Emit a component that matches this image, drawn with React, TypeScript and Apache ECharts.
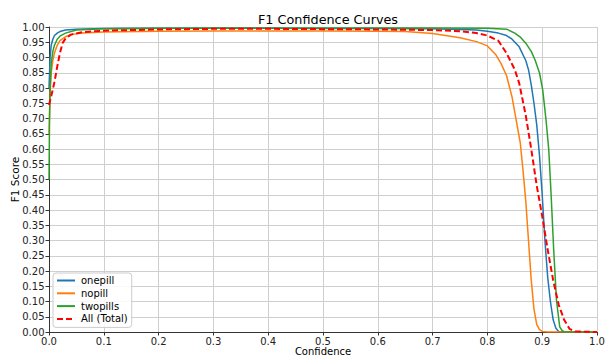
import React, { useEffect, useRef } from "react";
import * as echarts from "echarts";

const TITLE = "F1 Confidence Curves";
const X_NAME = "Confidence";
const Y_NAME = "F1 Score";

const onepillX = [0, 0.002, 0.004, 0.007, 0.01, 0.015, 0.02, 0.03, 0.05, 0.1, 0.2, 0.3, 0.4, 0.5, 0.6, 0.7, 0.75, 0.78, 0.8, 0.82, 0.835, 0.845, 0.858, 0.87, 0.875, 0.88, 0.885, 0.89, 0.895, 0.9, 0.905, 0.91, 0.915, 0.92, 0.925, 0.93, 0.94, 1.0];
const onepillY = [0.8, 0.9, 0.94, 0.96, 0.972, 0.98, 0.985, 0.99, 0.993, 0.995, 0.996, 0.996, 0.996, 0.995, 0.995, 0.994, 0.992, 0.99, 0.986, 0.98, 0.972, 0.96, 0.935, 0.89, 0.86, 0.81, 0.75, 0.68, 0.58, 0.45, 0.3, 0.18, 0.1, 0.04, 0.012, 0.002, 0, 0];

const nopillX = [0, 0.002, 0.004, 0.007, 0.01, 0.015, 0.02, 0.03, 0.04, 0.06, 0.1, 0.2, 0.3, 0.4, 0.5, 0.6, 0.65, 0.7, 0.75, 0.78, 0.8, 0.815, 0.825, 0.835, 0.845, 0.85, 0.855, 0.86, 0.865, 0.87, 0.875, 0.88, 0.885, 0.89, 0.895, 0.9, 0.91, 1.0];
const nopillY = [0.65, 0.78, 0.85, 0.89, 0.915, 0.94, 0.955, 0.968, 0.975, 0.98, 0.984, 0.986, 0.987, 0.987, 0.987, 0.986, 0.985, 0.979, 0.965, 0.952, 0.938, 0.91, 0.88, 0.84, 0.77, 0.72, 0.67, 0.62, 0.53, 0.43, 0.3, 0.17, 0.075, 0.025, 0.008, 0.002, 0, 0];

const twopillsX = [0, 0.001, 0.002, 0.004, 0.007, 0.01, 0.015, 0.02, 0.03, 0.05, 0.1, 0.2, 0.3, 0.4, 0.5, 0.6, 0.7, 0.8, 0.835, 0.85, 0.86, 0.87, 0.88, 0.887, 0.895, 0.901, 0.907, 0.912, 0.916, 0.921, 0.926, 0.932, 0.936, 0.94, 1.0];
const twopillsY = [0.5, 0.7, 0.8, 0.88, 0.92, 0.94, 0.96, 0.97, 0.98, 0.99, 0.994, 0.996, 0.997, 0.997, 0.997, 0.997, 0.997, 0.996, 0.993, 0.98, 0.967, 0.947, 0.92, 0.892, 0.85, 0.793, 0.695, 0.597, 0.46, 0.269, 0.105, 0.017, 0.005, 0.001, 0];

const totalX = [0, 0.005, 0.01, 0.015, 0.02, 0.025, 0.03, 0.04, 0.06, 0.1, 0.2, 0.3, 0.4, 0.5, 0.6, 0.7, 0.75, 0.78, 0.8, 0.82, 0.835, 0.85, 0.858, 0.87, 0.88, 0.89, 0.9, 0.91, 0.92, 0.93, 0.94, 0.95, 0.96, 1.0];
const totalY = [0.744, 0.78, 0.82, 0.87, 0.915, 0.948, 0.962, 0.975, 0.983, 0.988, 0.992, 0.994, 0.994, 0.993, 0.992, 0.99, 0.986, 0.98, 0.972, 0.955, 0.914, 0.86, 0.816, 0.71, 0.6, 0.48, 0.38, 0.27, 0.17, 0.09, 0.04, 0.01, 0.002, 0];

const SERIES_NAMES = ["onepill", "nopill", "twopills", "All (Total)"];

const zip = (xs: number[], ys: number[]) => xs.map((x, i) => [x, ys[i]]);

export default function App() {
  const ref = useRef<HTMLDivElement>(null);
  useEffect(() => {
    if (!ref.current) return;
    const chart = echarts.init(ref.current, null, { renderer: "svg" });
    const font = "DejaVu Sans";
    const mk = (name: string, data: number[][], color: string, width: number, type: any) => ({
      name,
      type: "line",
      data,
      showSymbol: false,
      symbol: "none",
      smooth: false,
      lineStyle: { color, width, type },
      itemStyle: { color },
    });
    chart.setOption({
      animation: false,
      backgroundColor: "#ffffff",
      title: {
        text: TITLE,
        left: 323,
        textAlign: "center",
        top: 8,
        textStyle: { fontFamily: font, fontSize: 12.8, fontWeight: "normal", color: "#000" },
      },
      grid: { left: 49, right: 8, top: 27, bottom: 26, containLabel: false, outerBoundsMode: "none" },
      legend: {
        orient: "vertical",
        left: 53,
        top: 273,
        padding: [2, 4, 3, 3],
        itemGap: 1.8,
        itemWidth: 18,
        itemHeight: 11,
        backgroundColor: "rgba(255,255,255,0.85)",
        borderColor: "#cccccc",
        borderWidth: 1,
        borderRadius: 3,
        itemStyle: { color: "transparent", opacity: 0, borderWidth: 0 },
        textStyle: { fontFamily: font, fontSize: 10, color: "#000", lineHeight: 11, padding: [0, 0, 0, 1] },
        data: SERIES_NAMES,
      },
      xAxis: {
        type: "value",
        min: 0,
        max: 1,
        interval: 0.1,
        name: X_NAME,
        nameLocation: "middle",
        nameGap: 14,
        nameMoveOverlap: false,
        nameTextStyle: { fontFamily: font, fontSize: 10, color: "#000" },
        axisLine: { show: true, lineStyle: { color: "#333", width: 1 } },
        axisTick: { show: true, length: 3.5, lineStyle: { color: "#333" } },
        axisLabel: { fontFamily: font, fontSize: 10, color: "#222", margin: 4.5, formatter: (v: number) => v.toFixed(1) },
        splitLine: { show: true, lineStyle: { color: "#cfcfcf", width: 1 } },
      },
      yAxis: {
        type: "value",
        min: 0,
        max: 1,
        interval: 0.05,
        name: Y_NAME,
        nameLocation: "middle",
        nameGap: 29,
        nameMoveOverlap: false,
        nameRotate: 90,
        nameTextStyle: { fontFamily: font, fontSize: 10.5, color: "#000" },
        axisLine: { show: true, lineStyle: { color: "#333", width: 1 } },
        axisTick: { show: true, length: 3.5, lineStyle: { color: "#333" } },
        axisLabel: { fontFamily: font, fontSize: 10, color: "#222", margin: 4.5, formatter: (v: number) => v.toFixed(2) },
        splitLine: { show: true, lineStyle: { color: "#cfcfcf", width: 1 } },
      },
      series: [
        mk(SERIES_NAMES[0], zip(onepillX, onepillY), "#1f77b4", 1.5, "solid"),
        mk(SERIES_NAMES[1], zip(nopillX, nopillY), "#ff7f0e", 1.5, "solid"),
        mk(SERIES_NAMES[2], zip(twopillsX, twopillsY), "#2ca02c", 1.5, "solid"),
        mk(SERIES_NAMES[3], zip(totalX, totalY), "#ff0000", 2, [6, 3]),
      ],
    });
    return () => chart.dispose();
  }, []);
  return <div ref={ref} style={{ position: "absolute", left: 0, top: 0, width: 605, height: 358 }} />;
}
